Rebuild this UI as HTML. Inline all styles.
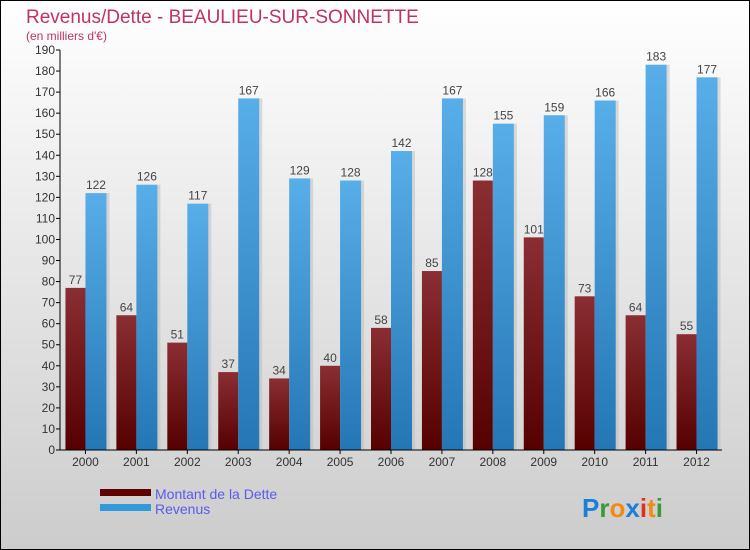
<!DOCTYPE html>
<html><head><meta charset="utf-8"><style>
body{margin:0;}
svg{display:block;font-family:"Liberation Sans",sans-serif;}
</style></head><body>
<svg width="750" height="550" viewBox="0 0 750 550">
<defs>
<linearGradient id="bg" x1="0" y1="0" x2="0" y2="1"><stop offset="0" stop-color="#ffffff"/><stop offset="1" stop-color="#cccccc"/></linearGradient>
<linearGradient id="gd" x1="0" y1="0" x2="0" y2="1"><stop offset="0" stop-color="#8a2e33"/><stop offset="1" stop-color="#560000"/></linearGradient>
<linearGradient id="gr" x1="0" y1="0" x2="0" y2="1"><stop offset="0" stop-color="#58aee8"/><stop offset="1" stop-color="#2476b4"/></linearGradient>
</defs>
<rect x="0.5" y="0.5" width="749" height="549" fill="url(#bg)" stroke="#000"/>
<text x="26" y="23" font-size="19" fill="#c0325f">Revenus/Dette - BEAULIEU-SUR-SONNETTE</text>
<text x="26" y="40" font-size="12" fill="#c0325f">(en milliers d'€)</text>
<g id="plot"></g>
<g>
<rect x="100" y="489" width="51" height="7" fill="#600000"/>
<text x="155" y="499" font-size="14" fill="#5a5af0">Montant de la Dette</text>
<rect x="100" y="504" width="51" height="7" fill="#3399dd"/>
<text x="155" y="514" font-size="14" fill="#5a5af0">Revenus</text>
</g>
<g font-size="26" font-weight="bold">
<text x="582" y="517"><tspan fill="#1a7fd6">P</tspan><tspan fill="#3a9a3a">r</tspan><tspan fill="#f08a10">o</tspan><tspan fill="#1a7fd6">x</tspan><tspan fill="#e03020">i</tspan><tspan fill="#f08a10">t</tspan><tspan fill="#3a9a3a">i</tspan></text>
</g>
</svg>
<script>
const years=["2000","2001","2002","2003","2004","2005","2006","2007","2008","2009","2010","2011","2012"];
const dette=[77,64,51,37,34,40,58,85,128,101,73,64,55];
const revenus=[122,126,117,167,129,128,142,167,155,159,166,183,177];
const yTicks=[0,10,20,30,40,50,60,70,80,90,100,110,120,130,140,150,160,170,180,190];
const NS="http://www.w3.org/2000/svg";
const g=document.getElementById('plot');
const x0=60,x1=722,yb=450,yt=50,ymax=190;
const y=v=>yb-(v/ymax)*(yb-yt);
const step=(x1-x0)/years.length;
const cx=i=>x0+step*(i+0.5);
function mk(t,a){const e=document.createElementNS(NS,t);for(const k in a)e.setAttribute(k,a[k]);g.appendChild(e);return e;}
years.forEach((yr,i)=>{
  const c=cx(i);
  let s=mk('rect',{x:c-20+3,y:y(dette[i]),width:20,height:yb-y(dette[i]),fill:'#bbb',opacity:0.5});
  let b=mk('rect',{x:c-20,y:y(dette[i]),width:20,height:yb-y(dette[i]),fill:'url(#gd)'});
  
  
  s=mk('rect',{x:c+3,y:y(revenus[i]),width:21,height:yb-y(revenus[i]),fill:'#bbb',opacity:0.5});
  b=mk('rect',{x:c,y:y(revenus[i]),width:21,height:yb-y(revenus[i]),fill:'url(#gr)'});
  
  
  let t=mk('text',{x:c-10,y:y(dette[i])-4,'font-size':12,fill:'#444','text-anchor':'middle'});t.textContent=dette[i];
  
  
  t=mk('text',{x:c+10.5,y:y(revenus[i])-4,'font-size':12,fill:'#444','text-anchor':'middle'});t.textContent=revenus[i];
  
  
  t=mk('text',{x:c,y:466,'font-size':12,fill:'#333','text-anchor':'middle'});t.textContent=yr;
  
  
  mk('line',{x1:c,x2:c,y1:yb,y2:yb+4,stroke:'#000'});
});
yTicks.forEach(v=>{
  mk('line',{x1:x0-4,x2:x0,y1:y(v),y2:y(v),stroke:'#000'});
  const t=mk('text',{x:x0-5,y:y(v)+4,'font-size':12,fill:'#333','text-anchor':'end'});t.textContent=v;
  
  
});
let ax=mk('line',{x1:x0,x2:x0,y1:yt,y2:yb,stroke:'#000'});


ax=mk('line',{x1:x0,x2:x1,y1:yb,y2:yb,stroke:'#000'});


</script>
</body></html>
